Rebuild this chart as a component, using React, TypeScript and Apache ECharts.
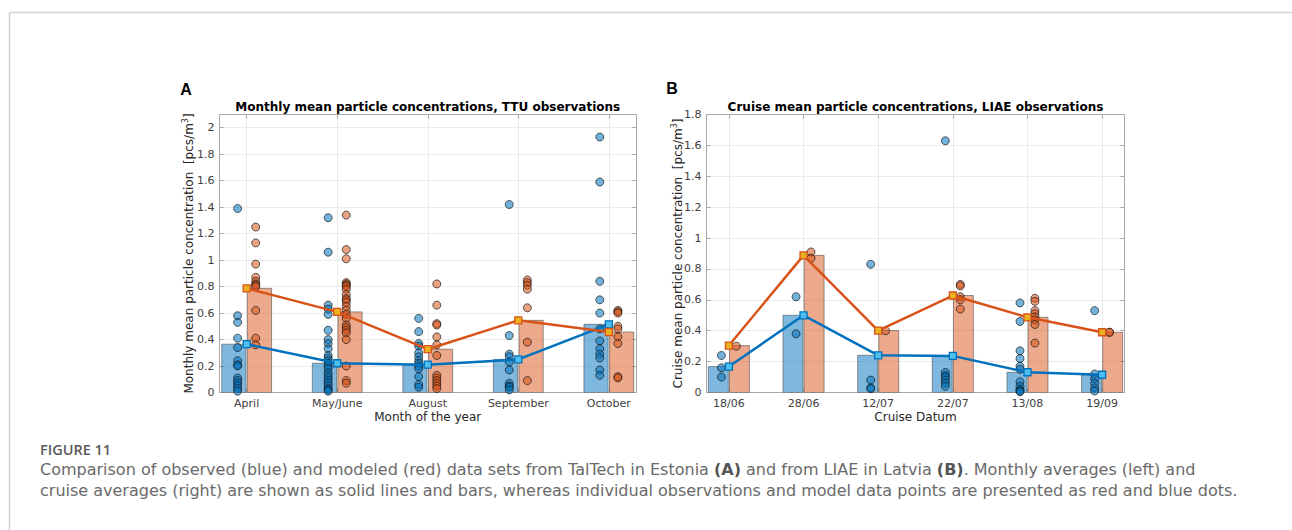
import React, { useEffect, useRef } from 'react';
import * as echarts from 'echarts';

// ---------- Data ----------
const monthCats = ['April', 'May/June', 'August', 'September', 'October'];
const monthObs = [0.365, 0.221, 0.21, 0.25, 0.515];
const monthModel = [0.787, 0.609, 0.327, 0.545, 0.457];
const monthObsDots: number[][] = [
  [1.39, 0.58, 0.53, 0.41, 0.34, 0.24, 0.21, 0.2, 0.11, 0.09, 0.07, 0.05, 0.03, 0.01],
  [1.32, 1.06, 0.66, 0.63, 0.59, 0.47, 0.4, 0.37, 0.33, 0.28, 0.26, 0.24, 0.22, 0.2, 0.18, 0.15, 0.13, 0.11, 0.09, 0.07, 0.05, 0.03, 0.02, 0.01],
  [0.56, 0.46, 0.37, 0.35, 0.3, 0.27, 0.24, 0.22, 0.2, 0.18, 0.12, 0.06, 0.04],
  [1.42, 0.43, 0.29, 0.27, 0.23, 0.17, 0.07, 0.05, 0.04, 0.02],
  [1.93, 1.59, 0.84, 0.7, 0.6, 0.48, 0.39, 0.33, 0.29, 0.26, 0.17, 0.13],
];
const monthModelDots: number[][] = [
  [1.25, 1.13, 0.97, 0.87, 0.84, 0.82, 0.81, 0.8, 0.62, 0.41, 0.36],
  [1.34, 1.08, 1.01, 0.83, 0.82, 0.81, 0.8, 0.78, 0.74, 0.71, 0.7, 0.68, 0.65, 0.62, 0.59, 0.56, 0.51, 0.49, 0.47, 0.45, 0.4, 0.2, 0.09, 0.07],
  [0.82, 0.66, 0.52, 0.51, 0.42, 0.36, 0.28, 0.13, 0.11, 0.09, 0.07, 0.05, 0.03],
  [0.85, 0.83, 0.81, 0.78, 0.64, 0.38, 0.09],
  [0.62, 0.61, 0.6, 0.5, 0.48, 0.42, 0.37, 0.12, 0.11],
];

const cruiseCats = ['18/06', '28/06', '12/07', '22/07', '13/08', '19/09'];
const cruiseObs = [0.168, 0.5, 0.241, 0.237, 0.131, 0.115];
const cruiseModel = [0.304, 0.888, 0.401, 0.628, 0.487, 0.39];
const cruiseObsDots: number[][] = [
  [0.24, 0.16, 0.1],
  [0.62, 0.38],
  [0.83, 0.08, 0.03, 0.025],
  [1.63, 0.13, 0.11, 0.1, 0.08, 0.06, 0.04],
  [0.58, 0.46, 0.27, 0.22, 0.17, 0.15, 0.07, 0.04, 0.02, 0.01, 0.005],
  [0.53, 0.12, 0.09, 0.06, 0.03, 0.01],
];
const cruiseModelDots: number[][] = [
  [0.3],
  [0.91, 0.87],
  [0.4],
  [0.7, 0.69, 0.62, 0.6, 0.54],
  [0.61, 0.59, 0.53, 0.51, 0.49, 0.47, 0.44, 0.32],
  [0.39, 0.39],
];

const panelTitles = ['Monthly mean particle concentrations, TTU observations', 'Cruise mean particle concentrations, LIAE observations'];
const yNames = ['Monthly mean particle concentration  [pcs/m{s|3}]', 'Cruise mean particle concentration  [pcs/m{s|3}]'];
const xNames = ['Month of the year', 'Cruise Datum'];
const yMax = [2.1, 1.8];

// ---------- Styles ----------
const BLUE = '#0072BD';
const ORANGE = '#D95319';
const AXIS = '#a8a8a8';
const GRIDC = '#ebebeb';
const TICKTXT = '#404040';
const FONT = 'DejaVu Sans';

const grids = [
  { left: 219.5, top: 114.5, width: 416.5, height: 278 },
  { left: 706.5, top: 114.5, width: 418, height: 278 },
];

function buildPanel(i: number, cats: string[], obs: number[], model: number[], obsDots: number[][], modelDots: number[][]) {
  const n = cats.length;
  const ticks = cats.map((_, k) => k + 1);
  const xAxes = [
    {
      type: 'value', gridIndex: i, min: 0.7, max: n + 0.3, position: 'bottom',
      axisLine: { show: true, onZero: false, lineStyle: { color: AXIS, width: 1 } },
      axisTick: { show: true, inside: true, length: 4, customValues: ticks, lineStyle: { color: AXIS } },
      axisLabel: { show: true, customValues: ticks, formatter: (v: number) => cats[Math.round(v) - 1] || '', color: TICKTXT, fontSize: 11, fontFamily: FONT, margin: 5 },
      splitLine: { show: true, lineStyle: { color: GRIDC, width: 1 } },
    },
    {
      type: 'value', gridIndex: i, min: 0.7, max: n + 0.3, position: 'top',
      axisLine: { show: true, onZero: false, lineStyle: { color: AXIS, width: 1 } },
      axisTick: { show: true, inside: true, length: 4, customValues: ticks, lineStyle: { color: AXIS } },
      axisLabel: { show: false },
      splitLine: { show: false },
    },
  ];
  const yAxes = [
    {
      type: 'value', gridIndex: i, min: 0, max: yMax[i], interval: 0.2, position: 'left',
      axisLine: { show: true, onZero: false, lineStyle: { color: AXIS, width: 1 } },
      axisTick: { show: true, inside: true, length: 4, lineStyle: { color: AXIS } },
      axisLabel: { show: true, color: TICKTXT, fontSize: 11, fontFamily: FONT, margin: 5, showMaxLabel: i === 1 },
      splitLine: { show: true, lineStyle: { color: GRIDC, width: 1 } },
    },
    {
      type: 'value', gridIndex: i, min: 0, max: yMax[i], interval: 0.2, position: 'right',
      axisLine: { show: true, onZero: false, lineStyle: { color: AXIS, width: 1 } },
      axisTick: { show: true, inside: true, length: 4, lineStyle: { color: AXIS } },
      axisLabel: { show: false },
      splitLine: { show: false },
    },
  ];
  const xi = i * 2;
  const yi = i * 2;
  const barSeries = (vals: number[], lo: number, hi: number, fill: string) => ({
    type: 'custom', xAxisIndex: xi, yAxisIndex: yi, z: 1, clip: true,
    data: vals.map((v, k) => [k + 1, v]),
    encode: { x: 0, y: 1 },
    renderItem: (params: any, api: any) => {
      const x = api.value(0);
      const v = api.value(1);
      const p1 = api.coord([x + lo, v]);
      const p0 = api.coord([x + hi, 0]);
      return {
        type: 'rect',
        shape: { x: p1[0], y: p1[1], width: p0[0] - p1[0], height: p0[1] - p1[1] },
        style: { fill, stroke: 'rgba(70,70,70,0.55)', lineWidth: 1 },
      };
    },
  });
  const dotSeries = (dots: number[][], off: number, fill: string) => ({
    type: 'scatter', xAxisIndex: xi, yAxisIndex: yi, z: 2, symbol: 'circle', symbolSize: 8,
    data: dots.flatMap((arr, k) => arr.map((v) => [k + 1 + off, v])),
    itemStyle: { color: fill, borderColor: 'rgba(20,20,20,0.85)', borderWidth: 0.8, opacity: 1 },
  });
  const lineSeries = (vals: number[], color: string, fill: string) => ({
    type: 'line', xAxisIndex: xi, yAxisIndex: yi, z: 3,
    data: vals.map((v, k) => [k + 1, v]),
    symbol: 'rect', symbolSize: 7, showSymbol: true,
    lineStyle: { color, width: 2.5 },
    itemStyle: { color: fill, borderColor: color, borderWidth: 1.3 },
  });
  const series = [
    barSeries(obs, -0.275, -0.008, 'rgba(0,114,189,0.5)'),
    barSeries(model, 0.008, 0.275, 'rgba(217,83,25,0.5)'),
    dotSeries(obsDots, -0.1, 'rgba(0,114,189,0.55)'),
    dotSeries(modelDots, 0.1, 'rgba(217,83,25,0.55)'),
    lineSeries(obs, BLUE, '#4DBEEE'),
    lineSeries(model, ORANGE, '#EDB120'),
  ];
  return { xAxes, yAxes, series };
}

export default function App() {
  const ref = useRef<HTMLDivElement>(null);
  useEffect(() => {
    document.body.style.margin = '0';
    if (!ref.current) return;
    const chart = echarts.init(ref.current, undefined, { renderer: 'svg' });
    const a = buildPanel(0, monthCats, monthObs, monthModel, monthObsDots, monthModelDots);
    const b = buildPanel(1, cruiseCats, cruiseObs, cruiseModel, cruiseObsDots, cruiseModelDots);

    const gcx = grids.map((g) => g.left + g.width / 2);
    const gcy = grids.map((g) => g.top + g.height / 2);
    const captionFont = 'DejaVu Sans';
    const capSize = 16;
    const graphic: any[] = [
      { type: 'line', shape: { x1: 9.5, y1: 12.5, x2: 1292, y2: 12.5 }, style: { stroke: '#d2d2d2', lineWidth: 1.5 } },
      { type: 'line', shape: { x1: 9.5, y1: 12.5, x2: 9.5, y2: 530 }, style: { stroke: '#d2d2d2', lineWidth: 1.5 } },
      { type: 'text', x: 186, y: 89, style: { text: 'A', fontSize: 16, fontWeight: 'bold', fontFamily: 'Liberation Sans', fill: '#000', align: 'center', verticalAlign: 'middle' } },
      { type: 'text', x: 672, y: 88, style: { text: 'B', fontSize: 16, fontWeight: 'bold', fontFamily: 'Liberation Sans', fill: '#000', align: 'center', verticalAlign: 'middle' } },
    ];
    [0, 1].forEach((i) => {
      graphic.push({ type: 'text', x: gcx[i], y: 106.5, style: { text: panelTitles[i], fontSize: 12, fontWeight: 'bold', fontFamily: FONT, fill: '#000', align: 'center', verticalAlign: 'middle' } });
      graphic.push({
        type: 'text', x: [188.5, 677.5][i], y: gcy[i], rotation: Math.PI / 2,
        style: {
          text: yNames[i], fontSize: 12, fontFamily: FONT, fill: '#262626', align: 'center', verticalAlign: 'middle',
          rich: { s: { fontSize: 8, fontFamily: FONT, fill: '#262626', verticalAlign: 'top', padding: [0, 0, 6, 0] } },
        },
      });
      graphic.push({ type: 'text', x: gcx[i], y: 417, style: { text: xNames[i], fontSize: 12, fontFamily: FONT, fill: '#262626', align: 'center', verticalAlign: 'middle' } });
    });
    graphic.push({ type: 'text', x: 40, y: 449, style: { text: 'FIGURE 11', fontSize: 14.5, fontWeight: 600, fontFamily: 'Open Sans', fill: '#5a5a5a', align: 'left', verticalAlign: 'middle' } });
    graphic.push({
      type: 'text', x: 40, y: 469, style: {
        text: 'Comparison of observed (blue) and modeled (red) data sets from TalTech in Estonia {b|(A)} and from LIAE in Latvia {b|(B)}. Monthly averages (left) and',
        fontSize: capSize, fontFamily: captionFont, fill: '#6a6a6a', align: 'left', verticalAlign: 'middle',
        rich: { b: { fontSize: capSize, fontFamily: captionFont, fontWeight: 'bold', fill: '#555' } },
      },
    });
    graphic.push({
      type: 'text', x: 40, y: 490.5, style: {
        text: 'cruise averages (right) are shown as solid lines and bars, whereas individual observations and model data points are presented as red and blue dots.',
        fontSize: capSize, fontFamily: captionFont, fill: '#6a6a6a', align: 'left', verticalAlign: 'middle',
      },
    });

    chart.setOption({
      animation: false,
      backgroundColor: '#fff',
      grid: grids.map((g) => ({ ...g, containLabel: false })),
      xAxis: [...a.xAxes, ...b.xAxes],
      yAxis: [...a.yAxes, ...b.yAxes],
      series: [...a.series, ...b.series],
      graphic,
    } as any);
    return () => chart.dispose();
  }, []);
  return <div ref={ref} style={{ width: 1292, height: 530 }} />;
}
